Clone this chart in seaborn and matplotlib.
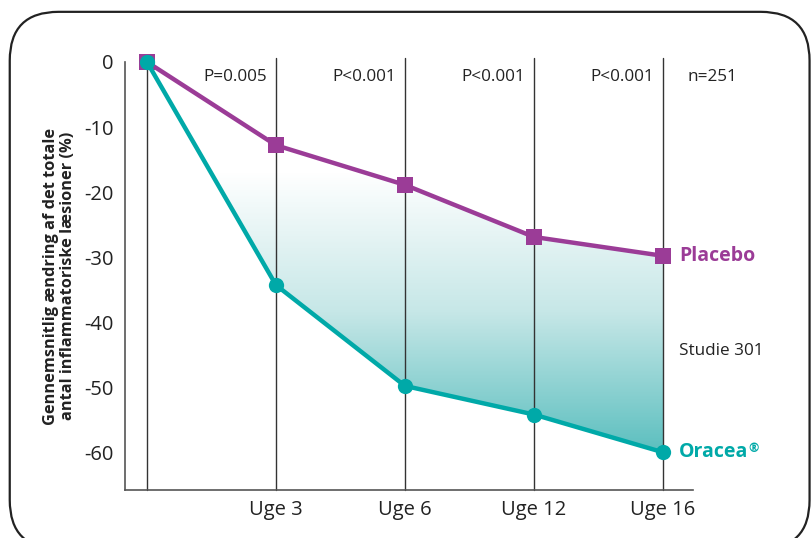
import matplotlib
matplotlib.use("Agg")
import matplotlib.pyplot as plt
import numpy as np
import pandas as pd
import seaborn as sns
from matplotlib.colors import LinearSegmentedColormap
from matplotlib.patches import FancyBboxPatch

weeks = ["", "Uge 3", "Uge 6", "Uge 12", "Uge 16"]
placebo = [0.0, -12.8, -18.9, -26.9, -29.8]
oracea = [0.0, -34.3, -49.8, -54.2, -60.0]
p_values = ["P=0.005", "P<0.001", "P<0.001", "P<0.001"]
y_ticks = [0, -10, -20, -30, -40, -50, -60]

PURPLE = "#9b3c97"
TEAL = "#00a9a8"

sns.set_theme(style="white")
plt.rcParams["font.family"] = ["Open Sans", "DejaVu Sans"]

fig = plt.figure(figsize=(8.12, 5.38), dpi=100)
ax = fig.add_axes([0.154, 0.0892, 0.6995, 0.7956])

# rounded frame around the whole chart
frame = FancyBboxPatch(
    (0.012, -0.02), 0.985, 0.998,
    boxstyle="round,pad=0,rounding_size=0.06",
    transform=fig.transFigure, facecolor="none", edgecolor="#222222",
    linewidth=1.6, mutation_aspect=812 / 538, clip_on=False,
)
fig.patches.append(frame)

x = np.arange(len(weeks))
df = pd.DataFrame({"x": x, "Placebo": placebo, "Oracea": oracea})

# vertical guide lines
for xi in x:
    ax.plot([xi, xi], [-65.8, 0.6], color="#333333", linewidth=1.0, zorder=1, clip_on=False)

# gradient between the two curves (white at top, teal at bottom)
cmap = LinearSegmentedColormap.from_list("grad", ["#ffffff", "#c6e7e7", "#5cbfbf"])
grad = np.linspace(1, 0, 256).reshape(-1, 1)
img = ax.imshow(grad, extent=[0, 4, -60, -17], origin="lower", aspect="auto",
                cmap=cmap, vmin=0, vmax=1, zorder=0.5)
poly = ax.fill_between(x, placebo, oracea, facecolor="none", edgecolor="none")
img.set_clip_path(poly.get_paths()[0], transform=ax.transData)

sns.lineplot(data=df, x="x", y="Placebo", color=PURPLE, linewidth=3.2, marker="s",
             markersize=11, markeredgewidth=0, ax=ax, zorder=3)
sns.lineplot(data=df, x="x", y="Oracea", color=TEAL, linewidth=3.2, marker="o",
             markersize=11, markeredgewidth=0, ax=ax, zorder=4)
for line in ax.lines[-2:]:
    line.set_clip_on(False)

ax.set_xlim(-0.17, 4.233)
ax.set_ylim(-65.8, 0)
ax.set_xticks(x[1:])
ax.set_xticklabels(weeks[1:], fontsize=14.5, color="#222222")
ax.set_yticks(y_ticks)
ax.set_yticklabels([str(v) for v in y_ticks], fontsize=14.5, color="#222222")
ax.tick_params(axis="both", length=0)
ax.tick_params(axis="y", pad=8)
ax.tick_params(axis="x", pad=7)
ax.set_xlabel("")
ax.set_ylabel("Gennemsnitlig ændring af det totale\nantal inflammatoriske læsioner (%)",
              fontsize=11.8, fontweight="bold", color="#222222", labelpad=6, linespacing=1.1)

for s in ["top", "right"]:
    ax.spines[s].set_visible(False)
for s in ["left", "bottom"]:
    ax.spines[s].set_color("#555555")
    ax.spines[s].set_linewidth(1.2)

for xi, p in zip(x[1:], p_values):
    ax.text(xi - 0.07, -2.3, p, ha="right", va="center", fontsize=12.3, color="#222222")
ax.text(4.19, -2.3, "n=251", ha="left", va="center", fontsize=12.3, color="#222222")
ax.text(4.125, -29.8, "Placebo", ha="left", va="center", fontsize=14, fontweight="bold",
        color=PURPLE, clip_on=False)
ax.text(4.125, -44.5, "Studie 301", ha="left", va="center", fontsize=12.3, color="#222222",
        clip_on=False)
t = ax.text(4.125, -60, "Oracea", ha="left", va="center", fontsize=14, fontweight="bold",
            color=TEAL, clip_on=False)
ax.annotate("®", xy=(1, 1), xycoords=t, xytext=(0, 0), textcoords="offset points",
            ha="left", va="top", fontsize=9, fontweight="bold", color=TEAL)

fig.savefig("out.png", dpi=100)
